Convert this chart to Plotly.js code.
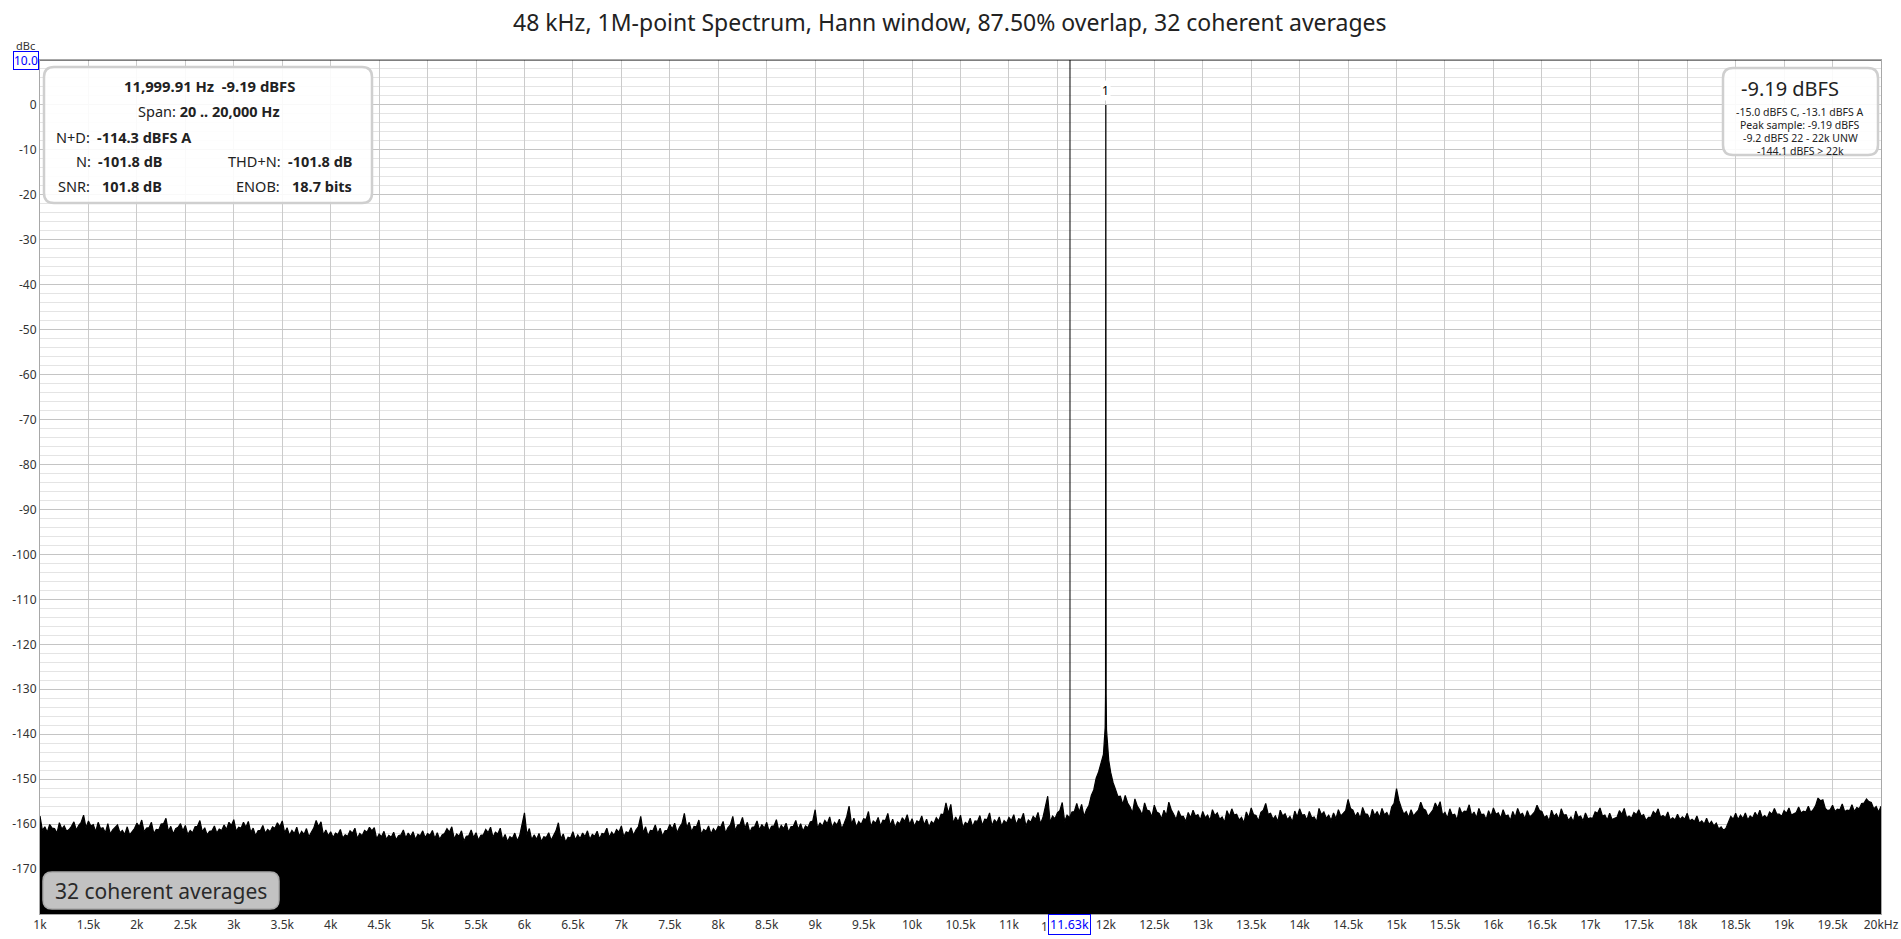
<!DOCTYPE html>
<html>
<head>
<meta charset="utf-8">
<script src="https://cdn.plot.ly/plotly-3.0.1.min.js"></script>
<style>html,body{margin:0;padding:0;background:#fff;}#chart{width:1901px;height:939px;}</style>
</head>
<body>
<div id="chart"></div>
<script>
// ---------------- DATA ----------------
const chartTitle = "48 kHz, 1M-point Spectrum, Hann window, 87.50% overlap, 32 coherent averages";

// Noise floor (dBc). Bins on the 50 Hz grid from 1 kHz ...
const noiseStartHz = 1000;
const noiseBinHz = 50;
const noiseLevels = [
 -158.2,-160.6,-160.1,-161.0,-159.7,-160.4,-161.2,-159.5,-160.3,-158.0,-159.3,-160.1,-159.6,-160.8,-159.9,-161.3,-160.2,-161.4,-160.6,-161.7,
 -159.8,-159.1,-160.9,-159.6,-161.2,-160.0,-158.7,-160.5,-161.0,-159.9,-160.3,-161.4,-160.6,-159.2,-160.8,-161.6,-160.4,-161.1,-160.2,-159.6,
 -159.0,-160.7,-159.6,-159.4,-160.9,-161.5,-160.3,-161.2,-160.6,-159.7,-159.3,-160.8,-161.4,-160.7,-161.6,-161.0,-161.8,-159.2,-159.5,-161.3,
 -161.7,-162.0,-161.2,-162.4,-161.5,-160.9,-162.1,-161.4,-160.7,-160.8,-162.2,-161.6,-162.5,-161.8,-162.6,-161.3,-162.0,-161.7,-162.3,-161.5,
 -162.1,-161.4,-161.9,-162.4,-161.0,-160.6,-162.2,-161.5,-162.7,-161.3,-161.9,-162.5,-161.2,-160.7,-161.8,-160.9,-162.3,-162.8,-162.0,-162.6,
 -157.5,-161.0,-162.4,-162.1,-162.8,-161.9,-162.5,-159.7,-162.2,-162.9,-161.7,-162.4,-162.0,-161.5,-162.3,-161.6,-162.1,-160.9,-161.8,-161.2,
 -160.4,-161.7,-160.8,-161.3,-158.3,-160.6,-161.4,-160.2,-160.9,-161.5,-160.1,-159.8,-160.7,-157.6,-159.6,-160.5,-159.1,-161.2,-160.4,-161.0,
 -160.5,-159.4,-160.8,-158.3,-160.2,-158.5,-159.6,-160.7,-159.3,-160.1,-159.6,-160.5,-159.0,-160.3,-159.8,-160.6,-159.2,-159.9,-160.4,-159.5,
 -156.8,-159.7,-159.2,-158.4,-159.6,-158.9,-159.8,-156.0,-158.7,-159.4,-158.8,-157.2,-159.3,-158.5,-159.1,-157.6,-158.9,-159.5,-158.6,-157.9,
 -158.8,-159.3,-158.2,-158.9,-159.4,-158.6,-157.8,-155.3,-155.6,-158.4,-158.0,-159.6,-158.7,-159.3,-158.1,-158.9,-157.5,-159.0,-158.4,-159.2,
 -158.5,-157.9,-158.8,-157.6,-159.1,-158.3,-157.4,-158.6,-153.8,-158.2,-157.5,-155.2,-158.0,-157.3,-155.4,-155.6,-156.8,-153.6,-149.8,-146.5,
 -141.0,-148.5,-152.3,-153.8,-153.6,-156.2,-154.4,-156.8,-155.3,-157.1,-155.8,-157.6,-156.9,-155.1,-157.8,-157.0,-158.3,-157.4,-156.9,-157.9,
 -157.2,-158.0,-156.8,-157.5,-158.4,-157.0,-156.6,-157.8,-158.5,-157.3,-156.4,-158.1,-157.4,-155.4,-157.6,-158.2,-156.9,-157.7,-158.3,-157.1,
 -156.6,-157.9,-157.2,-158.4,-156.5,-157.3,-158.0,-157.5,-156.8,-157.6,-154.5,-156.9,-157.4,-156.3,-157.8,-156.7,-157.2,-156.5,-157.4,-156.2,
 -152.1,-156.4,-157.2,-156.8,-157.5,-155.1,-156.9,-157.6,-155.3,-155.0,-157.4,-156.6,-157.8,-156.3,-157.1,-155.7,-157.3,-156.5,-157.8,-157.0,
 -156.4,-157.5,-156.8,-158.0,-157.2,-156.5,-157.6,-157.0,-157.9,-155.8,-157.2,-158.1,-156.9,-157.7,-156.6,-157.9,-158.4,-157.1,-158.2,-157.5,
 -158.6,-157.3,-156.4,-158.0,-157.6,-158.7,-157.0,-156.5,-158.2,-157.4,-156.8,-157.9,-158.5,-157.2,-156.6,-158.1,-157.3,-158.6,-157.8,-158.4,
 -157.6,-158.9,-158.2,-159.3,-158.7,-159.4,-159.8,-160.6,-160.9,-158.3,-157.6,-158.0,-157.5,-158.2,-157.4,-156.9,-158.1,-157.3,-156.5,-157.8,
 -157.0,-156.4,-157.6,-156.2,-157.1,-156.0,-156.8,-154.2,-154.6,-157.0,-155.8,-156.7,-155.5,-156.9,-155.7,-156.3,-155.4,-154.4,-155.2,-156.1,
 -156.0
];
// ... and the bins half-way between them (1025, 1075, ... 19975 Hz)
const noiseMidLevels = [
 -161.4,-161.8,-160.9,-162.0,-161.1,-161.6,-160.5,-161.3,-159.6,-160.8,-160.4,-161.7,-161.0,-161.9,-162.2,-160.8,-161.9,-162.3,-162.4,-161.0,
 -160.6,-161.7,-160.8,-162.1,-161.3,-159.9,-161.6,-162.2,-160.7,-161.5,-162.3,-161.9,-160.5,-161.7,-162.4,-161.5,-162.0,-161.4,-161.2,-160.3,
 -161.6,-160.9,-160.7,-161.8,-162.6,-161.4,-162.0,-161.7,-160.9,-160.6,-161.9,-162.5,-162.1,-162.7,-162.3,-162.8,-160.9,-160.6,-162.4,-162.6,
 -163.0,-162.3,-163.1,-162.7,-162.0,-163.2,-162.6,-161.8,-161.5,-163.3,-162.8,-163.4,-162.9,-163.5,-162.4,-163.1,-162.8,-163.4,-162.6,-163.0,
 -162.5,-163.2,-163.4,-162.1,-161.8,-163.3,-162.7,-163.8,-162.6,-163.0,-163.6,-162.4,-161.9,-162.9,-162.2,-163.5,-163.9,-163.2,-163.7,-160.2,
 -162.3,-163.5,-163.4,-163.9,-163.0,-163.6,-161.5,-163.3,-164.0,-163.1,-163.5,-163.2,-162.8,-163.4,-162.7,-163.3,-162.2,-162.9,-162.5,-161.8,
 -162.8,-162.0,-162.5,-160.6,-161.9,-162.6,-161.5,-162.1,-162.7,-161.4,-161.1,-161.9,-159.9,-160.8,-161.7,-160.6,-162.3,-161.6,-162.2,-161.7,
 -160.7,-162.0,-160.2,-161.4,-160.1,-160.9,-161.8,-160.6,-161.3,-160.9,-161.6,-160.4,-161.5,-161.0,-161.8,-160.5,-161.2,-161.6,-160.8,-159.3,
 -161.0,-160.5,-159.9,-160.8,-160.2,-161.1,-158.4,-160.0,-160.7,-160.1,-159.0,-160.6,-159.8,-160.4,-159.2,-160.3,-160.8,-159.9,-159.4,-160.1,
 -160.5,-159.6,-160.2,-160.7,-159.9,-159.3,-157.9,-157.6,-159.8,-159.5,-160.8,-160.0,-160.6,-159.4,-160.3,-159.0,-160.4,-159.7,-160.5,-159.8,
 -159.2,-160.1,-159.0,-160.4,-159.6,-158.9,-159.9,-156.2,-159.6,-158.8,-157.0,-159.4,-158.6,-157.2,-157.3,-158.3,-155.9,-152.4,-148.4,-145.0,
 -146.0,-150.8,-153.9,-155.6,-155.3,-157.5,-156.0,-158.0,-156.9,-158.4,-157.3,-158.8,-158.1,-156.8,-159.0,-158.3,-159.4,-158.6,-158.2,-159.1,
 -158.6,-159.2,-158.1,-158.9,-159.6,-158.3,-158.0,-159.1,-159.7,-158.6,-157.9,-159.3,-156.9,-157.8,-158.9,-159.4,-158.2,-159.0,-159.5,-158.4,
 -158.0,-159.1,-158.6,-159.5,-157.9,-158.7,-159.2,-158.8,-158.2,-157.0,-156.5,-158.3,-158.7,-157.7,-159.0,-158.1,-158.5,-157.9,-158.6,-155.4,
 -154.8,-157.8,-158.5,-158.2,-156.9,-156.6,-158.3,-156.9,-156.4,-158.0,-158.7,-158.0,-159.1,-157.7,-157.2,-158.1,-158.6,-157.9,-159.0,-158.3,
 -157.8,-158.7,-158.2,-159.2,-158.5,-157.9,-158.8,-158.4,-157.3,-157.0,-158.5,-159.3,-158.3,-158.9,-158.0,-159.2,-159.5,-158.5,-159.3,-158.8,
 -158.7,-157.6,-158.2,-159.1,-159.0,-158.5,-157.8,-158.6,-158.7,-157.9,-158.2,-159.2,-158.5,-157.8,-158.4,-158.6,-159.1,-159.1,-159.0,-158.9,
 -159.3,-159.4,-159.8,-160.0,-160.1,-160.4,-161.1,-161.4,-159.5,-158.9,-159.0,-158.8,-159.1,-158.7,-158.3,-158.6,-158.7,-157.8,-157.8,-158.3,
 -157.6,-158.0,-157.4,-157.5,-157.3,-157.4,-155.9,-154.8,-156.5,-156.8,-157.2,-156.8,-157.2,-157.0,-157.2,-156.6,-155.3,-155.0,-156.6,-157.3
];

// The 12 kHz tone and its skirt
const peakFreqsHz = [11975, 11985, 11993, 11997, 11999.0, 11999.91, 12000.8, 12003, 12007, 12015, 12030];
const peakLevels  = [-144.5, -141.2, -138.5, -131.0, -42.0, 0.0, -42.0, -131.0, -139.0, -142.5, -145.8];
const peakLabel = "1";

const floorDb = -180;
const topDb = 10;
const xMinHz = 1000, xMaxHz = 20000;

const xTickHz = [1000,1500,2000,2500,3000,3500,4000,4500,5000,5500,6000,6500,7000,7500,8000,8500,9000,9500,10000,
  10500,11000,11500,12000,12500,13000,13500,14000,14500,15000,15500,16000,16500,17000,17500,18000,18500,19000,19500,20000];
const xTickLabels = ["1k","1.5k","2k","2.5k","3k","3.5k","4k","4.5k","5k","5.5k","6k","6.5k","7k","7.5k","8k","8.5k","9k","9.5k","10k",
  "10.5k","11k","11.5k","12k","12.5k","13k","13.5k","14k","14.5k","15k","15.5k","16k","16.5k","17k","17.5k","18k","18.5k","19k","19.5k","20kHz"];
const yTickDb = [0,-10,-20,-30,-40,-50,-60,-70,-80,-90,-100,-110,-120,-130,-140,-150,-160,-170];
const yTickLabels = ["0","-10","-20","-30","-40","-50","-60","-70","-80","-90","-100","-110","-120","-130","-140","-150","-160","-170"];

const cursorHz = 11630, cursorHzLabel = "11.63k";
const cursorDb = 10.0, cursorDbLabel = "10.0";
const yUnit = "dBc";

const infoMain = "11,999.91 Hz\u00a0 -9.19 dBFS";
const infoSpanLabel = "Span:", infoSpanValue = "20 .. 20,000 Hz";
const infoND = ["N+D:", "-114.3 dBFS A"];
const infoN = ["N:", "-101.8 dB"];
const infoTHDN = ["THD+N:", "-101.8 dB"];
const infoSNR = ["SNR:", "101.8 dB"];
const infoENOB = ["ENOB:", "18.7 bits"];
const levelMain = "-9.19 dBFS";
const levelLines = ["-15.0 dBFS C, -13.1 dBFS A", "Peak sample: -9.19 dBFS", "-9.2 dBFS 22 - 22k UNW", "-144.1 dBFS > 22k"];
const averagesText = "32 coherent averages";

// ---------------- BUILD ----------------
const peakLo = peakFreqsHz[0], peakHi = peakFreqsHz[peakFreqsHz.length - 1];
const pts = [];
noiseLevels.forEach((v, i) => {
  const f = noiseStartHz + i * noiseBinHz;
  if (f >= peakLo && f <= peakHi) return;
  pts.push([f, v]);
});
noiseMidLevels.forEach((v, i) => {
  const f = noiseStartHz + noiseBinHz / 2 + i * noiseBinHz;
  if (f >= peakLo && f <= peakHi) return;
  pts.push([f, v]);
});
peakFreqsHz.forEach((f, i) => pts.push([f, peakLevels[i]]));
pts.sort((a, b) => a[0] - b[0]);
const specX = pts.map(p => p[0]);
const specY = pts.map(p => p[1]);

const W = 1901, H = 939;
const L = 40, R = 1881, T = 60, B = 914;
const px2x = p => (p - L) / (R - L);
const py2y = p => (B - p) / (B - T);
const FONT = "Noto Sans, Open Sans, sans-serif";

function roundRect(x0, y0, x1, y1, r) {
  const P = (x, y) => px2x(x).toFixed(6) + "," + py2y(y).toFixed(6);
  return "M" + P(x0 + r, y0) + " L" + P(x1 - r, y0) + " Q" + P(x1, y0) + " " + P(x1, y0 + r) +
    " L" + P(x1, y1 - r) + " Q" + P(x1, y1) + " " + P(x1 - r, y1) +
    " L" + P(x0 + r, y1) + " Q" + P(x0, y1) + " " + P(x0, y1 - r) +
    " L" + P(x0, y0 + r) + " Q" + P(x0, y0) + " " + P(x0 + r, y0) + " Z";
}

function ann(px, py, text, size, anchor, extra) {
  return Object.assign({
    xref: "paper", yref: "paper", x: px2x(px), y: py2y(py),
    xanchor: anchor || "center", yanchor: "middle",
    text: text, showarrow: false,
    font: {family: FONT, size: size, color: "#222"}
  }, extra || {});
}

const traces = [
  {x: [xMinHz, xMaxHz], y: [floorDb, floorDb], mode: "lines", line: {width: 0, color: "black"},
   hoverinfo: "skip", showlegend: false},
  {x: specX, y: specY, mode: "lines", fill: "tonexty", fillcolor: "#000",
   line: {color: "#000", width: 1.2}, hoverinfo: "skip", showlegend: false}
];

const shapes = [
  {type: "line", xref: "x", yref: "paper", x0: cursorHz, x1: cursorHz, y0: 0, y1: 1,
   line: {color: "#000", width: 1}, layer: "above"},
  {type: "line", xref: "x", yref: "paper", x0: cursorHz, x1: cursorHz, y0: py2y(B), y1: py2y(B + 3),
   line: {color: "#000", width: 1}, layer: "above"},
  {type: "line", xref: "paper", yref: "y", x0: 0, x1: 1, y0: cursorDb, y1: cursorDb,
   line: {color: "#000", width: 1.2}, layer: "above"},
  {type: "path", xref: "paper", yref: "paper", path: roundRect(44, 67, 372, 203, 10),
   fillcolor: "rgba(255,255,255,0.9)", line: {color: "#cfcfcf", width: 2.5}, layer: "above"},
  {type: "path", xref: "paper", yref: "paper", path: roundRect(1723, 68, 1878, 155, 10),
   fillcolor: "rgba(255,255,255,0.9)", line: {color: "#cfcfcf", width: 2.5}, layer: "above"},
  {type: "path", xref: "paper", yref: "paper", path: roundRect(43, 872, 279, 909, 9),
   fillcolor: "#c2c2c2", line: {color: "#a9a9a9", width: 1.5}, layer: "above"}
];

const hiddenTick = xTickHz.indexOf(11500);
const shownTickText = xTickLabels.map((t, i) => i === hiddenTick ? "" : t);
const peakIdx = peakLevels.indexOf(Math.max(...peakLevels));

const annotations = [
  ann(950, 22, chartTitle, 23),
  ann(25, 46, yUnit, 11, "center", {font: {family: FONT, size: 11, color: "#333"}}),
  {xref: "paper", yref: "y", x: 0, y: cursorDb, xanchor: "right", yanchor: "middle", xshift: -1,
   text: cursorDbLabel, showarrow: false, bgcolor: "#fff", bordercolor: "#0000ff", borderwidth: 1, borderpad: 0,
   font: {family: FONT, size: 12, color: "#0000ff"}},
  // visible remainder of the 11.5k label, then the x cursor readout
  ann(1050, 926, xTickLabels[hiddenTick].charAt(0), 12, "right", {font: {family: FONT, size: 12, color: "#333"}}),
  {xref: "x", yref: "paper", x: cursorHz, y: py2y(925), xanchor: "center", yanchor: "middle",
   text: cursorHzLabel, showarrow: false, bgcolor: "#fff", bordercolor: "#0000ff", borderwidth: 1, borderpad: 1,
   font: {family: FONT, size: 12.5, color: "#0000ff"}},
  {xref: "x", yref: "y", x: peakFreqsHz[peakIdx], y: peakLevels[peakIdx],
   yshift: 14, text: peakLabel, showarrow: false, bgcolor: "#fff",
   font: {family: FONT, size: 12, color: "#000"}},
  // left info box
  ann(209, 86, "<b>" + infoMain + "</b>", 14.8),
  ann(209, 111, infoSpanLabel + " <b>" + infoSpanValue + "</b>", 14.5),
  ann(92, 137, infoND[0], 14.5, "right"), ann(95, 137, "<b>" + infoND[1] + "</b>", 14.5, "left"),
  ann(93, 161, infoN[0], 14.5, "right"), ann(96, 161, "<b>" + infoN[1] + "</b>", 14.5, "left"),
  ann(283, 161, infoTHDN[0], 14.5, "right"), ann(286, 161, "<b>" + infoTHDN[1] + "</b>", 14.5, "left"),
  ann(92, 186, infoSNR[0], 14.5, "right"), ann(100, 186, "<b>" + infoSNR[1] + "</b>", 14.5, "left"),
  ann(282, 186, infoENOB[0], 14.5, "right"), ann(290, 186, "<b>" + infoENOB[1] + "</b>", 14.5, "left"),
  // right level box
  ann(1790, 88, levelMain, 20),
  ann(1800, 112, levelLines[0], 10.5),
  ann(1800, 125, levelLines[1], 10.5),
  ann(1800, 138, levelLines[2], 10.5),
  ann(1800, 151, levelLines[3], 10.5),
  // averages box
  ann(161, 891, averagesText, 21, "center", {font: {family: FONT, size: 21, color: "#2a2a2a"}})
];

const layout = {
  width: W, height: H,
  margin: {l: L, r: W - R, t: T, b: H - B, pad: 0},
  paper_bgcolor: "#fff", plot_bgcolor: "#fff",
  showlegend: false,
  xaxis: {range: [xMinHz, xMaxHz], tickvals: xTickHz, ticktext: shownTickText,
          showgrid: true, gridcolor: "#cbcbcb", gridwidth: 1, zeroline: false,
          showline: true, linecolor: "#a8a8a8", linewidth: 1, mirror: true,
          ticks: "", tickfont: {family: FONT, size: 12, color: "#333"}, fixedrange: true},
  yaxis: {range: [floorDb, topDb], tickvals: yTickDb, ticktext: yTickLabels,
          showgrid: true, gridcolor: "#c4c4c4", gridwidth: 1, zeroline: false,
          minor: {dtick: 2, showgrid: true, gridcolor: "#e4e4e4", gridwidth: 1, ticks: ""},
          showline: true, linecolor: "#a8a8a8", linewidth: 1, mirror: true,
          ticks: "", tickfont: {family: FONT, size: 12, color: "#333"}, fixedrange: true},
  shapes: shapes,
  annotations: annotations
};

Plotly.newPlot("chart", traces, layout, {displayModeBar: false, staticPlot: true});
</script>
</body>
</html>
